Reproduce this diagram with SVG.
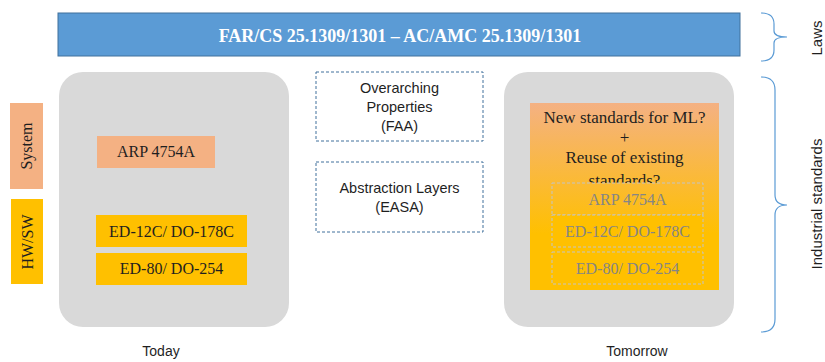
<svg xmlns="http://www.w3.org/2000/svg" width="825" height="362" viewBox="0 0 825 362">
  <style>
    .serif { font-family: "Liberation Serif", "DejaVu Serif", serif; }
    .sans { font-family: "Liberation Sans", "DejaVu Sans", sans-serif; }
    .panel { fill: #D9D9D9; }
    .sys { fill: #F4B183; }
    .hw { fill: #FFC000; }
    .std { font-size: 16px; fill: #1F1F1F; text-anchor: middle; }
    .ghost { font-size: 16px; fill: #858585; text-anchor: middle; }
    .dash-gray { stroke: #C4C4C4; stroke-width: 1; stroke-dasharray: 3 2; }
    .dash-blue { fill: #FFFFFF; stroke: #41719C; stroke-width: 1; stroke-dasharray: 3 2; }
    .note { font-size: 14.5px; fill: #1F1F1F; text-anchor: middle; }
    .brace { fill: none; stroke: #5B9BD5; stroke-width: 1.2; }
    .side { font-size: 15px; fill: #1F1F1F; text-anchor: middle; }
    .caption { font-size: 14px; fill: #1F1F1F; text-anchor: middle; }
  </style>
  <defs>
    <linearGradient id="mlGrad" gradientUnits="userSpaceOnUse" x1="0" y1="103" x2="0" y2="290">
      <stop offset="0" stop-color="#F4B183"/>
      <stop offset="0.7" stop-color="#FFC000"/>
      <stop offset="1" stop-color="#FFC000"/>
    </linearGradient>
  </defs>

  <rect width="825" height="362" fill="#FFFFFF"/>

  <!-- regulation bar -->
  <g id="laws-bar">
    <rect x="58" y="13" width="682" height="43" fill="#5B9BD5" stroke="#41719C" stroke-width="1"/>
    <text class="serif" x="400" y="42" font-size="18" font-weight="bold" fill="#FFFFFF" text-anchor="middle">FAR/CS 25.1309/1301 – AC/AMC 25.1309/1301</text>
  </g>

  <!-- level labels -->
  <g id="label-system">
    <rect class="sys" x="10" y="103" width="33" height="86"/>
    <text class="serif" font-size="16" fill="#1F1F1F" text-anchor="middle" transform="translate(32,146) rotate(-90)">System</text>
  </g>
  <g id="label-hwsw">
    <rect class="hw" x="11" y="199" width="32" height="85"/>
    <text class="serif" font-size="16" fill="#1F1F1F" text-anchor="middle" transform="translate(33,242) rotate(-90)">HW/SW</text>
  </g>

  <!-- today panel -->
  <g id="today">
    <rect class="panel" x="59" y="72" width="230" height="255" rx="24" ry="24"/>
    <text class="sans caption" x="161" y="356">Today</text>
  </g>
  <g id="today-arp">
    <rect class="sys" x="97" y="136" width="118" height="32"/>
    <text class="serif std" x="156" y="157">ARP 4754A</text>
  </g>
  <g id="today-do178">
    <rect class="hw" x="96" y="215" width="151" height="32"/>
    <text class="serif std" x="171.5" y="237">ED-12C/ DO-178C</text>
  </g>
  <g id="today-do254">
    <rect class="hw" x="96" y="253" width="151" height="32"/>
    <text class="serif std" x="171.5" y="274">ED-80/ DO-254</text>
  </g>

  <!-- approaches in between -->
  <g id="overarching">
    <rect class="dash-blue" x="316" y="72" width="167" height="69"/>
    <text class="sans note" x="399.5" y="93">Overarching</text>
    <text class="sans note" x="399.5" y="112">Properties</text>
    <text class="sans note" x="399.5" y="131">(FAA)</text>
  </g>
  <g id="abstraction">
    <rect class="dash-blue" x="316" y="162" width="167" height="70"/>
    <text class="sans note" x="399.5" y="193">Abstraction Layers</text>
    <text class="sans note" x="399.5" y="212">(EASA)</text>
  </g>

  <!-- tomorrow panel -->
  <g id="tomorrow">
    <rect class="panel" x="504" y="72" width="230" height="255" rx="24" ry="24"/>
    <text class="sans caption" x="637" y="356">Tomorrow</text>
  </g>
  <g id="ml-standards">
    <rect x="530" y="103" width="189" height="187" fill="url(#mlGrad)"/>
    <text class="serif" x="624.5" y="123" font-size="17" fill="#1F1F1F" text-anchor="middle">New standards for ML?</text>
    <text class="serif" x="624.5" y="143" font-size="17" fill="#1F1F1F" text-anchor="middle">+</text>
    <text class="serif" x="624.5" y="163" font-size="17" fill="#1F1F1F" text-anchor="middle">Reuse of existing</text>
    <text class="serif" x="624.5" y="186" font-size="17" fill="#1F1F1F" text-anchor="middle">standards?</text>
  </g>
  <g id="reuse-arp">
    <rect class="dash-gray" x="552" y="183" width="151" height="32" fill="url(#mlGrad)"/>
    <text class="serif ghost" x="627.5" y="205">ARP 4754A</text>
  </g>
  <g id="reuse-do178">
    <rect class="dash-gray" x="552" y="215" width="151" height="32" fill="#FFC000"/>
    <text class="serif ghost" x="627.5" y="237">ED-12C/ DO-178C</text>
  </g>
  <g id="reuse-do254">
    <rect class="dash-gray" x="552" y="252" width="151" height="32" fill="#FFC000"/>
    <text class="serif ghost" x="627.5" y="274">ED-80/ DO-254</text>
  </g>

  <!-- braces grouping the levels -->
  <g id="connectors">
    <path class="brace" d="M761,13 Q774,13 774,24 L774,31 Q774,37 787,37 Q774,37 774,43 L774,50 Q774,61 761,61"/>
    <path class="brace" d="M761,77 Q775,77 775,90 L775,195 Q775,205 787,205 Q775,205 775,215 L775,319 Q775,332 761,332"/>
  </g>
  <g id="label-laws">
    <text class="sans side" transform="translate(822,38) rotate(-90)">Laws</text>
  </g>
  <g id="label-industrial">
    <text class="sans side" transform="translate(822,204) rotate(-90)">Industrial standards</text>
  </g>
</svg>
